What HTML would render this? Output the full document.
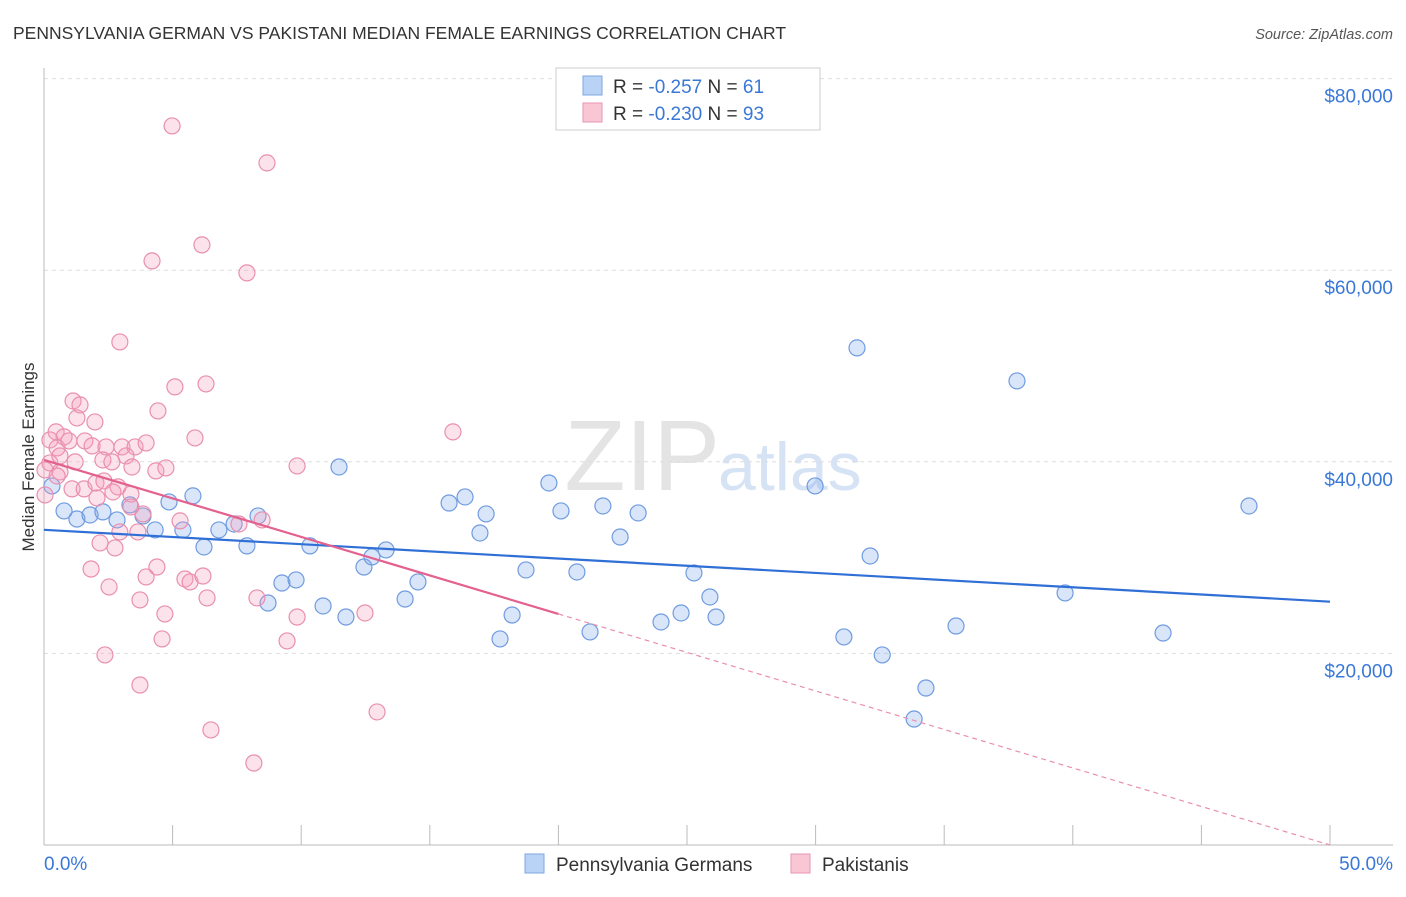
<!DOCTYPE html>
<html><head><meta charset="utf-8"><style>
body{margin:0;background:#fff;font-family:"Liberation Sans",sans-serif;}
svg text{font-family:"Liberation Sans",sans-serif;}
</style></head><body>
<svg id="chart" width="1406" height="892">
<text x="13" y="39" font-size="17.5" fill="#333">PENNSYLVANIA GERMAN VS PAKISTANI MEDIAN FEMALE EARNINGS CORRELATION CHART</text>
<text x="1393" y="39" font-size="14.5" fill="#555" font-style="italic" text-anchor="end">Source: ZipAtlas.com</text>
<text x="34" y="457" font-size="17" fill="#333" text-anchor="middle" transform="rotate(-90 34 457)">Median Female Earnings</text>
<text x="720" y="490" font-size="100" fill="#e4e4e4" text-anchor="end" font-family="Liberation Serif">ZIP</text>
<text x="718" y="490" font-size="68" fill="#d6e3f5">atlas</text>
<g id="grid"></g><g id="axes"></g><g id="pts"></g><g id="trend"></g>
<g>
<rect x="556" y="68" width="264" height="62" fill="#fff" stroke="#ccc"/>
<rect x="583" y="76" width="19" height="19" fill="#b8d3f5" stroke="#7fa7e0"/>
<text x="613" y="93" font-size="19" fill="#333">R = <tspan fill="#3a78d8">-0.257</tspan>   N = <tspan fill="#3a78d8">61</tspan></text>
<rect x="583" y="103" width="19" height="19" fill="#f9c6d6" stroke="#e996b3"/>
<text x="613" y="120" font-size="19" fill="#333">R = <tspan fill="#3a78d8">-0.230</tspan>   N = <tspan fill="#3a78d8">93</tspan></text>
</g>
<g>
<rect x="525" y="854" width="19" height="19" fill="#b8d3f5" stroke="#7fa7e0"/>
<text x="556" y="871" font-size="19" fill="#333">Pennsylvania Germans</text>
<rect x="791" y="854" width="19" height="19" fill="#f9c6d6" stroke="#e996b3"/>
<text x="822" y="871" font-size="19" fill="#333">Pakistanis</text>
</g>
</svg>
<script>
const yTicks=[20000,40000,60000,80000];
const yTickLabels=["$20,000","$40,000","$60,000","$80,000"];
const xTickLabels=["0.0%","50.0%"];
const blueX=[0.78,1.28,1.79,2.29,2.84,3.34,3.85,4.32,4.86,5.40,5.79,6.22,6.80,7.39,7.89,8.32,8.71,9.25,9.80,10.34,10.85,11.47,11.74,12.44,12.75,13.30,14.04,14.54,15.75,16.37,16.95,17.19,17.73,18.20,18.74,19.63,20.10,20.72,21.23,21.73,22.40,23.10,23.99,24.77,25.27,25.89,26.13,29.98,31.10,31.61,32.12,32.59,33.83,34.29,35.46,37.83,39.70,43.51,46.85,0.31];
const blueY=[34870,34030,34450,34770,33930,35500,34350,32890,35810,32890,36440,31110,32890,33510,31220,34350,25260,27350,27670,31220,24950,39460,23800,29020,30070,30800,25680,27460,35700,36330,32570,34560,21510,24010,28710,37790,34870,28500,22240,35390,32150,34660,23280,24220,28400,25890,23800,37480,21720,51890,30170,19840,13150,16390,22860,48440,26310,22130,35390,37480];
const pinkX=[4.98,8.67,4.20,6.14,7.89,2.95,5.09,6.30,4.43,1.13,1.40,1.28,1.98,0.47,0.78,0.23,0.51,0.97,1.59,1.87,2.41,3.03,3.54,3.97,5.87,15.90,9.84,0.23,0.62,1.21,2.29,2.64,3.19,3.42,4.35,4.74,0.04,0.62,1.09,1.56,2.02,2.33,2.88,3.38,2.68,2.06,3.85,3.38,5.29,7.58,8.48,2.95,3.65,2.18,2.76,4.39,3.97,1.83,5.48,5.68,6.18,6.34,8.28,9.84,12.48,3.73,2.53,4.70,4.59,9.45,2.37,3.73,12.95,6.49,8.16,0.04,0.51];
const pinkY=[75060,71200,60970,62640,59720,52510,47820,48130,45310,46350,45940,44580,44160,43120,42600,42280,41450,42180,42180,41660,41550,41550,41550,41970,42490,43120,39570,39880,40610,39990,40190,39990,40610,39460,39050,39360,39150,38940,37170,37170,37790,38000,37380,36640,36850,36230,34560,35290,33830,33510,33930,32680,32680,31530,31010,29020,27980,28810,27770,27460,28080,25790,25790,23800,24220,25580,26940,24120,21510,21300,19840,16700,13890,12010,8560,36540,38520];
const blueTrend=[32900,25400];
const pinkTrend=[40200,0];
const NS="http://www.w3.org/2000/svg";
const X=p=>44+p/50*1286, Y=v=>845-v/20000*191.6;
function mk(t,a,parent){const e=document.createElementNS(NS,t);for(const k in a)e.setAttribute(k,a[k]);document.getElementById(parent).appendChild(e);return e;}
yTicks.forEach((v,i)=>{
 const l=mk('line',{x1:44,x2:1393,y1:Y(v),y2:Y(v),stroke:'#ddd','stroke-dasharray':'4 4'},'grid');
 
 
 const t=mk('text',{x:1393,y:Y(v)+24,'font-size':19,fill:'#3a78d8','text-anchor':'end'},'grid');t.textContent=yTickLabels[i];
 
 
});
const ax=mk('line',{x1:44,x2:44,y1:68,y2:845,stroke:'#bbb'},'axes');


const bx=mk('line',{x1:44,x2:1393,y1:845,y2:845,stroke:'#bbb'},'axes');


for(let i=0;i<=10;i++){const t=mk('line',{x1:X(i*5),x2:X(i*5),y1:825,y2:845,stroke:'#bbb'},'axes');
 
 }
[[0,'start',44],[50,'end',1393]].forEach((d,i)=>{const t=mk('text',{x:d[2],y:870,'font-size':19,fill:'#3a78d8','text-anchor':d[1]},'axes');t.textContent=xTickLabels[i];
 
 });
blueX.forEach((x,i)=>{const c=mk('circle',{cx:X(x),cy:Y(blueY[i]),r:8,fill:'rgba(130,170,235,0.3)',stroke:'#6f9be0','stroke-width':1.2},'pts');
 
 });
pinkX.forEach((x,i)=>{const c=mk('circle',{cx:X(x),cy:Y(pinkY[i]),r:8,fill:'rgba(245,160,190,0.3)',stroke:'#e98fae','stroke-width':1.2},'pts');
 
 });
const bt=mk('line',{x1:X(0),y1:Y(blueTrend[0]),x2:X(50),y2:Y(blueTrend[1]),stroke:'#2f6fd6','stroke-width':2.2},'trend');


const py=x=>pinkTrend[0]+(pinkTrend[1]-pinkTrend[0])*x/50;
const pt=mk('line',{x1:X(0),y1:Y(py(0)),x2:X(20),y2:Y(py(20)),stroke:'#e4608e','stroke-width':2.2},'trend');


const pd=mk('line',{x1:X(20),y1:Y(py(20)),x2:X(50),y2:Y(py(50)),stroke:'#e98fae','stroke-width':1.2,'stroke-dasharray':'5 4'},'trend');


</script>
</body></html>
